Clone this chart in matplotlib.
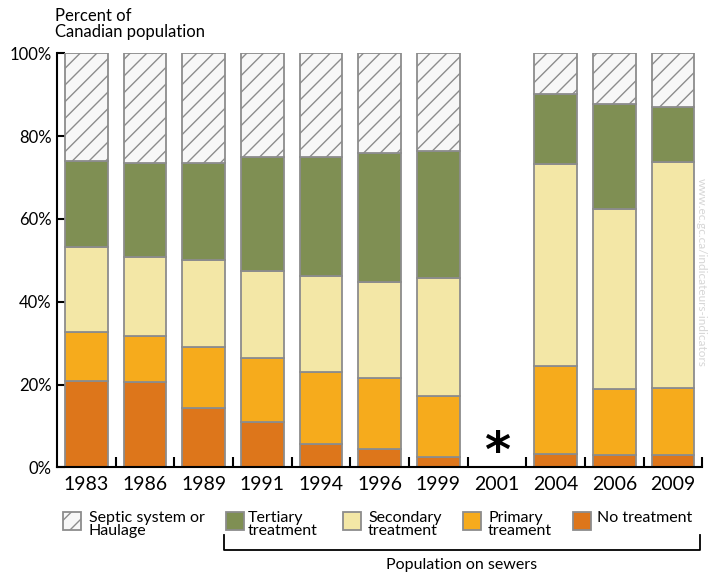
import numpy as np
import matplotlib
matplotlib.use('Agg')
import matplotlib.pyplot as plt
from matplotlib.patches import Rectangle
from matplotlib.lines import Line2D

plt.rcParams['font.family'] = ['Lato', 'DejaVu Sans']
plt.rcParams['hatch.linewidth'] = 1.0

years = ['1983', '1986', '1989', '1991', '1994', '1996', '1999', '2001', '2004', '2006', '2009']
nan = np.nan
# share of population (%), stacked from the bottom up; 2001 has no data
no_treatment = [20.9, 20.5, 14.3, 10.9, 5.7, 4.3, 2.6, nan, 3.2, 2.9, 2.9]
primary = [11.8, 11.2, 14.8, 15.5, 17.2, 17.3, 14.6, nan, 21.2, 16.0, 16.3]
secondary = [20.4, 19.0, 21.0, 21.1, 23.3, 23.1, 28.5, nan, 48.8, 43.5, 54.6]
tertiary = [20.8, 22.8, 23.4, 27.5, 28.8, 31.3, 30.7, nan, 17.0, 25.4, 13.3]
septic = [26.1, 26.5, 26.5, 25.0, 25.0, 24.0, 23.6, nan, 9.8, 12.2, 12.9]

y_ticks = [0, 20, 40, 60, 80, 100]
y_labels = ['0%', '20%', '40%', '60%', '80%', '100%']

c_no = '#dd761b'
c_prim = '#f6ab1c'
c_sec = '#f3e7a6'
c_tert = '#7f8f53'
c_septic = '#f7f7f7'
edge = '#8c8c8c'

W, H = 710, 575
def fx(x): return x / W
def fy(y): return 1 - y / H

fig = plt.figure(figsize=(7.1, 5.75), dpi=100)
ax = fig.add_axes([fx(57), fy(467.3), 645.3 / W, 414 / H])

x = np.arange(len(years))
bottom = np.zeros(len(years))
for vals, col, hatch in [(no_treatment, c_no, None), (primary, c_prim, None),
                         (secondary, c_sec, None), (tertiary, c_tert, None),
                         (septic, c_septic, '//')]:
    v = np.array(vals)
    ax.bar(x, v, 0.73, bottom=bottom, color=col, edgecolor=edge, linewidth=1.3,
           hatch=hatch, zorder=2)
    bottom = bottom + v

ax.text(7, 3.5, '*', ha='center', va='center', fontsize=36, fontweight='bold',
        family=['DejaVu Sans'])

ax.set_xlim(-0.5, 10.5)
ax.set_ylim(0, 100)
ax.set_xticks(x)
ax.set_xticklabels(years, fontsize=14)
ax.set_xticks(np.arange(0.5, 11, 1), minor=True)
ax.tick_params(axis='x', which='major', length=0, pad=6)
ax.tick_params(axis='x', which='minor', direction='in', length=7, width=1.5)
ax.set_yticks(y_ticks)
ax.set_yticklabels(y_labels, fontsize=12)
ax.tick_params(axis='y', direction='in', length=6, width=1.5, pad=4)
for s in ['top', 'right']:
    ax.spines[s].set_visible(False)
for s in ['left', 'bottom']:
    ax.spines[s].set_linewidth(1.5)

fig.text(fx(55), fy(8), 'Percent of\nCanadian population', fontsize=12,
         va='top', ha='left', linespacing=1.0)

# legend
legend_items = [
    (63, c_septic, '//', 89, 'Septic system or\nHaulage'),
    (226, c_tert, None, 248, 'Tertiary\ntreatment'),
    (343, c_sec, None, 368, 'Secondary\ntreatment'),
    (463, c_prim, None, 488, 'Primary\ntreament'),
    (573, c_no, None, 597, 'No treatment'),
]
for sx, col, hatch, tx, label in legend_items:
    fig.add_artist(Rectangle((fx(sx), fy(530)), 18 / W, 18 / H, transform=fig.transFigure,
                             facecolor=col, edgecolor=edge, linewidth=1.3, hatch=hatch))
    fig.text(fx(tx), fy(511), label, fontsize=11.5, va='top', ha='left', linespacing=0.92)

# bracket for population on sewers
fig.add_artist(Line2D([fx(224), fx(224), fx(700), fx(700)],
                      [fy(535), fy(550), fy(550), fy(535)],
                      transform=fig.transFigure, color='black', linewidth=1.3))
fig.text(fx(462), fy(558), 'Population on sewers', fontsize=11.5, ha='center', va='top')

fig.text(fx(701), fy(272), 'www.ec.gc.ca/indicateurs-indicators', fontsize=8.5,
         rotation=-90, color='#d6d6d6', ha='center', va='center')

fig.savefig('out.png', dpi=100)
